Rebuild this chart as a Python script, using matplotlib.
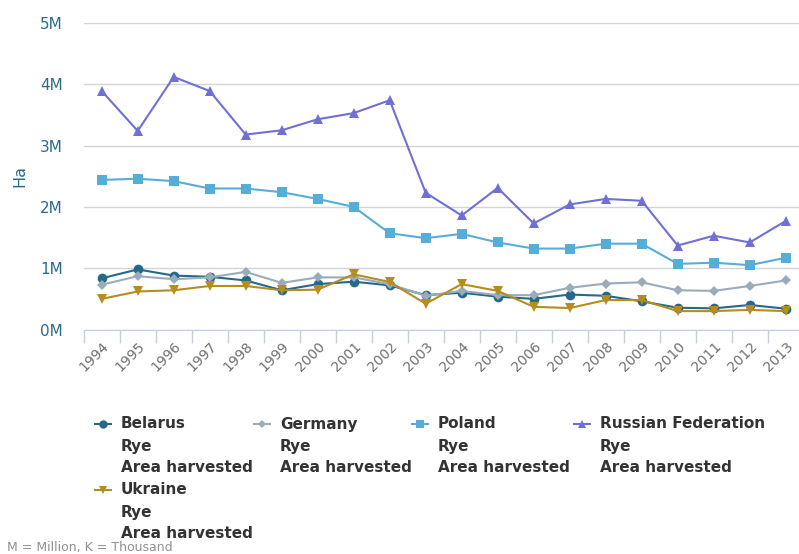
import matplotlib
matplotlib.use('Agg')
import matplotlib.pyplot as plt
from matplotlib.ticker import FuncFormatter

years = list(range(1994, 2014))
belarus = [0.835, 0.98, 0.88, 0.86, 0.80, 0.64, 0.74, 0.78, 0.72, 0.56,
           0.60, 0.535, 0.50, 0.57, 0.55, 0.46, 0.355, 0.345, 0.40, 0.34]
germany = [0.73, 0.87, 0.82, 0.85, 0.94, 0.76, 0.85, 0.85, 0.74, 0.55,
           0.63, 0.56, 0.56, 0.68, 0.75, 0.77, 0.64, 0.63, 0.71, 0.80]
poland = [2.44, 2.46, 2.42, 2.30, 2.30, 2.24, 2.13, 2.00, 1.57, 1.49,
          1.56, 1.42, 1.32, 1.32, 1.40, 1.40, 1.07, 1.09, 1.05, 1.17]
russia = [3.89, 3.24, 4.12, 3.89, 3.18, 3.25, 3.43, 3.53, 3.74, 2.23,
          1.86, 2.31, 1.73, 2.04, 2.13, 2.10, 1.37, 1.53, 1.42, 1.77]
ukraine = [0.50, 0.62, 0.64, 0.71, 0.71, 0.64, 0.65, 0.90, 0.775, 0.42,
           0.74, 0.63, 0.37, 0.35, 0.48, 0.48, 0.30, 0.30, 0.32, 0.30]

series = [
    ('Belarus', belarus, '#24698a', 'o', 7),
    ('Germany', germany, '#9aacba', 'D', 5),
    ('Poland', poland, '#56aed8', 's', 7),
    ('Russian Federation', russia, '#6f6fd6', '^', 7),
    ('Ukraine', ukraine, '#b58d1e', 'v', 7),
]

W, H = 799, 554
fig = plt.figure(figsize=(W / 100, H / 100), dpi=100)
ax = fig.add_axes([83.7 / W, (H - 329.5) / H, 720 / W, (329.5 - 23) / H])

x = list(range(len(years)))
for name, vals, col, mk, ms in series:
    ax.plot(x, [v * 1e6 for v in vals], color=col, marker=mk, markersize=ms,
            linewidth=1.5, markeredgewidth=0, zorder=3)

ax.set_xlim(-0.5, len(years) - 0.5)
ax.set_ylim(0, 5e6)
ax.set_yticks([i * 1e6 for i in range(6)])
ax.yaxis.set_major_formatter(FuncFormatter(lambda v, p: f'{int(round(v / 1e6))}M'))
ax.grid(axis='y', color='#d4d4d4', linewidth=1)
ax.set_axisbelow(True)
for s in ['top', 'right', 'left']:
    ax.spines[s].set_visible(False)
ax.spines['bottom'].set_color('#c0d0e0')
ax.tick_params(axis='y', length=0, pad=15, labelsize=11, labelcolor='#2b6b8a')

# category ticks between the years
ax.set_xticks([i - 0.5 for i in x], minor=False)
ax.set_xticklabels([])
ax.tick_params(axis='x', which='major', length=9, color='#c0d0e0', width=1)
ax.set_xticks(x, minor=True)
ax.set_xticklabels([str(y) for y in years], minor=True, rotation=45,
                   ha='right', va='top', rotation_mode='anchor')
ax.tick_params(axis='x', which='minor', length=0, pad=7, labelsize=10,
               labelcolor='#707070')

ax.set_ylabel('Ha', fontsize=11.5, color='#2b6b8a', labelpad=9)

# legend drawn by hand (highcharts style, multi-line items)
cols_x = [103, 262, 420, 582]
fx = lambda px: px / W
fy = lambda py: 1 - py / H
for i, (name, vals, col, mk, ms) in enumerate(series):
    mx = cols_x[i % 4]
    y0 = 424 + (i // 4) * 66
    fig.add_artist(plt.Line2D([fx(mx - 8), fx(mx + 8)], [fy(y0), fy(y0)],
                              color=col, linewidth=1.5))
    fig.add_artist(plt.Line2D([fx(mx)], [fy(y0)], color=col, marker=mk,
                              markersize=ms - 1, markeredgewidth=0))
    for j, t in enumerate([name, 'Rye', 'Area harvested']):
        fig.text(fx(mx + 18), fy(y0 + j * 22), t, fontsize=11, weight='bold',
                 color='#333333', va='center', ha='left')

fig.text(7 / W, 1 - 548 / H, 'M = Million, K = Thousand', fontsize=9,
         color='#909090', va='center', ha='left')

fig.savefig('out.png', dpi=100)
